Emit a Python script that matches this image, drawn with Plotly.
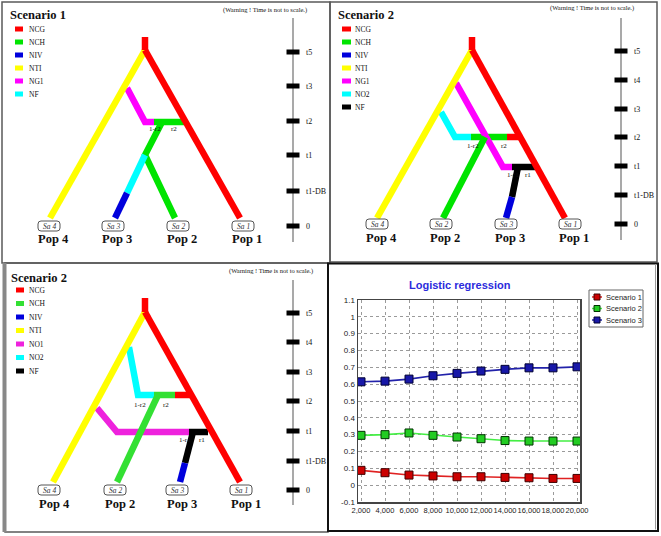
import plotly.graph_objects as go

W, H = 661, 536

# ---------------- Logistic regression panel data ----------------
sample_sizes = [2000, 4000, 6000, 8000, 10000, 12000, 14000, 16000, 18000, 20000]
scenario1_prob = [0.088, 0.074, 0.060, 0.055, 0.050, 0.050, 0.046, 0.044, 0.040, 0.040]
scenario2_prob = [0.296, 0.300, 0.310, 0.296, 0.286, 0.276, 0.265, 0.262, 0.262, 0.262]
scenario3_prob = [0.614, 0.618, 0.630, 0.650, 0.664, 0.678, 0.688, 0.697, 0.697, 0.703]
series_names = ["Scenario 1", "Scenario 2", "Scenario 3"]
y_tick_values = [-0.1, 0.0, 0.1, 0.2, 0.3, 0.4, 0.5, 0.6, 0.7, 0.8, 0.9, 1.0, 1.1]
y_tick_labels = ["-0.1", "0", "0.1", "0.2", "0.3", "0.4", "0.5", "0.6", "0.7", "0.8", "0.9", "1", "1.1"]
chart_title = "Logistic regression"

# ---------------- Scenario trees (schematic units, local to each panel) ----------------
warning_text = "(Warning ! Time is not to scale.)"

# Scenario 1 (top-left)
s1_title = "Scenario 1"
s1_time_labels = ["t5", "t3", "t2", "t1", "t1-DB", "0"]
s1_time_y = [52, 86, 121, 155, 191, 226]
s1_legend_codes = ["NCG", "NCH", "NIV", "NTI", "NG1", "NF"]
s1_legend_colors = ["#ff0000", "#00e400", "#0000dc", "#ffff00", "#ff00ff", "#00ffff"]
s1_sample_labels = ["Sa 4", "Sa 3", "Sa 2", "Sa 1"]
s1_pop_labels = ["Pop 4", "Pop 3", "Pop 2", "Pop 1"]
s1_lineage_x = [49, 113, 178, 243]
s1_branches = [
    ("NG1", [127, 145, 154], [88, 122, 122]),
    ("NCH", [154, 184], [122, 122]),
    ("NCH", [162, 145, 175], [122, 155, 218]),
    ("NF", [145, 127], [155, 193]),
    ("NIV", [127, 115], [193, 218]),
    ("NTI", [145, 50], [50, 218]),
    ("NCG", [145, 145], [37, 50]),
    ("NCG", [145, 240], [50, 218]),
]
s1_admix_labels = ["1-r2", "r2"]
s1_admix_x = [155, 174]
s1_admix_y = [129, 129]

# Scenario 2 (top-right)
s2_title = "Scenario 2"
s2_time_labels = ["t5", "t4", "t3", "t2", "t1", "t1-DB", "0"]
s2_time_y = [51, 80, 109, 137, 166, 195, 224]
s2_legend_codes = ["NCG", "NCH", "NIV", "NTI", "NG1", "NO2", "NF"]
s2_legend_colors = ["#ff0000", "#00e400", "#0000dc", "#ffff00", "#ff00ff", "#00ffff", "#000000"]
s2_sample_labels = ["Sa 4", "Sa 2", "Sa 3", "Sa 1"]
s2_pop_labels = ["Pop 4", "Pop 2", "Pop 3", "Pop 1"]
s2_lineage_x = [47, 111, 176, 240]
s2_branches = [
    ("NO2", [111, 125, 141], [112, 137, 137]),
    ("NCH", [141, 177], [137, 137]),
    ("NCG", [177, 190], [137, 137]),
    ("NG1", [126, 173, 182], [83, 167, 167]),
    ("NCH", [155, 113], [137, 218]),
    ("NF", [182, 205], [167, 167]),
    ("NF", [188, 182], [167, 197]),
    ("NIV", [182, 176], [197, 218]),
    ("NTI", [142, 47], [50, 218]),
    ("NCG", [142, 142], [37, 50]),
    ("NCG", [142, 235], [50, 218]),
]
s2_admix_labels = ["1-r2", "r2", "1-r1", "r1"]
s2_admix_x = [143, 174, 183, 198]
s2_admix_y = [146, 146, 175, 175]

# Scenario 2 variant (bottom-left)
s3_title = "Scenario 2"
s3_time_labels = ["t5", "t4", "t3", "t2", "t1", "t1-DB", "0"]
s3_time_y = [48, 77, 107, 136, 166, 196, 225]
s3_legend_codes = ["NCG", "NCH", "NIV", "NTI", "NO1", "NO2", "NF"]
s3_legend_colors = ["#ff0000", "#33e033", "#0000dc", "#ffff00", "#ee22dd", "#00ffff", "#000000"]
s3_sample_labels = ["Sa 4", "Sa 2", "Sa 3", "Sa 1"]
s3_pop_labels = ["Pop 4", "Pop 2", "Pop 3", "Pop 1"]
s3_lineage_x = [49, 115, 177, 241]
s3_branches = [
    ("NO2", [129, 138, 154], [82, 130, 130]),
    ("NCH", [154, 175], [130, 130]),
    ("NCG", [175, 191], [130, 130]),
    ("NO1", [97, 117, 189], [143, 167, 167]),
    ("NCH", [158, 117], [130, 217]),
    ("NF", [189, 208], [167, 167]),
    ("NF", [193, 185], [167, 198]),
    ("NIV", [185, 180], [198, 217]),
    ("NTI", [145, 53], [47, 217]),
    ("NCG", [145, 145], [33, 47]),
    ("NCG", [145, 240], [47, 217]),
]
s3_admix_labels = ["1-r2", "r2", "1-r1", "r1"]
s3_admix_x = [140, 166, 185, 202]
s3_admix_y = [140, 140, 175, 175]

# ---------------- Layout / style constants ----------------
SERIF = "Liberation Serif, Times New Roman, serif"
NARROW = "Liberation Sans Narrow, Arial Narrow, Liberation Sans, Arial, sans-serif"

panels = [
    dict(ox=0, oy=0, title=s1_title, tl=s1_time_labels, ty=s1_time_y, lc=s1_legend_codes,
         lcol=s1_legend_colors, sl=s1_sample_labels, pl=s1_pop_labels, lx=s1_lineage_x,
         br=s1_branches, al=s1_admix_labels, ax_=s1_admix_x, ay_=s1_admix_y,
         title_xy=(9, 15), warn_xy=(265, 10), leg_x=(15, 23, 28), leg_y0=29, leg_dy=13.0,
         axis_x=293, axis_y=(18, 242), sample_y=226, pop_y=239, pop_dx=4),
    dict(ox=330, oy=0, title=s2_title, tl=s2_time_labels, ty=s2_time_y, lc=s2_legend_codes,
         lcol=s2_legend_colors, sl=s2_sample_labels, pl=s2_pop_labels, lx=s2_lineage_x,
         br=s2_branches, al=s2_admix_labels, ax_=s2_admix_x, ay_=s2_admix_y,
         title_xy=(7, 15), warn_xy=(262, 8), leg_x=(12, 21, 24), leg_y0=29, leg_dy=13.0,
         axis_x=291, axis_y=(18, 240), sample_y=224, pop_y=238, pop_dx=4),
    dict(ox=0, oy=265, title=s3_title, tl=s3_time_labels, ty=s3_time_y, lc=s3_legend_codes,
         lcol=s3_legend_colors, sl=s3_sample_labels, pl=s3_pop_labels, lx=s3_lineage_x,
         br=s3_branches, al=s3_admix_labels, ax_=s3_admix_x, ay_=s3_admix_y,
         title_xy=(10, 13), warn_xy=(271, 6), leg_x=(16, 24, 28), leg_y0=25, leg_dy=13.5,
         axis_x=293, axis_y=(15, 240), sample_y=225, pop_y=239, pop_dx=5),
]

fig = go.Figure()
annotations = []
shapes = []


def ann(x, y, text, size, family=SERIF, color="#111", xanchor="center", bold=False, italic=False):
    t = text
    if bold:
        t = "<b>" + t + "</b>"
    if italic:
        t = "<i>" + t + "</i>"
    annotations.append(dict(x=x, y=y, xref="x", yref="y", text=t, showarrow=False,
                            xanchor=xanchor, yanchor="middle", borderpad=0,
                            font=dict(size=size, family=family, color=color)))


def rounded_box(cx, cy, w, h, r):
    x0, x1, y0, y1 = cx - w / 2, cx + w / 2, cy - h / 2, cy + h / 2
    p = (f"M {x0 + r},{y0} L {x1 - r},{y0} Q {x1},{y0} {x1},{y0 + r} "
         f"L {x1},{y1 - r} Q {x1},{y1} {x1 - r},{y1} L {x0 + r},{y1} "
         f"Q {x0},{y1} {x0},{y1 - r} L {x0},{y0 + r} Q {x0},{y0} {x0 + r},{y0} Z")
    return dict(type="path", path=p, xref="x", yref="y", line=dict(color="#555", width=1),
                fillcolor="white")


for P in panels:
    ox, oy = P["ox"], P["oy"]
    cmap = dict(zip(P["lc"], P["lcol"]))
    # branches
    for code, xs, ys in P["br"]:
        fig.add_trace(go.Scatter(x=[ox + v for v in xs], y=[oy + v for v in ys], mode="lines",
                                 line=dict(color=cmap[code], width=6.5), hoverinfo="skip",
                                 showlegend=False, xaxis="x", yaxis="y"))
    # legend swatches
    lx0, lx1, ltx = P["leg_x"]
    for i, (code, col) in enumerate(zip(P["lc"], P["lcol"])):
        yy = oy + P["leg_y0"] + i * P["leg_dy"]
        fig.add_trace(go.Scatter(x=[ox + lx0, ox + lx1], y=[yy, yy], mode="lines",
                                 line=dict(color=col, width=5), hoverinfo="skip",
                                 showlegend=False, xaxis="x", yaxis="y"))
        ann(ox + ltx, yy, code, 7.5, xanchor="left")
    # time axis
    axx = ox + P["axis_x"]
    fig.add_trace(go.Scatter(x=[axx, axx], y=[oy + P["axis_y"][0], oy + P["axis_y"][1]],
                             mode="lines", line=dict(color="#8c8c8c", width=1.5),
                             hoverinfo="skip", showlegend=False, xaxis="x", yaxis="y"))
    tx, tyy = [], []
    for yv in P["ty"]:
        tx += [axx - 6.5, axx + 6.5, None]
        tyy += [oy + yv, oy + yv, None]
    fig.add_trace(go.Scatter(x=tx, y=tyy, mode="lines", line=dict(color="#000", width=5),
                             hoverinfo="skip", showlegend=False, xaxis="x", yaxis="y"))
    for lab, yv in zip(P["tl"], P["ty"]):
        ann(axx + 12, oy + yv, lab, 8, xanchor="left")
    # admixture rate labels
    for lab, xv, yv in zip(P["al"], P["ax_"], P["ay_"]):
        ann(ox + xv, oy + yv, lab, 7)
    # samples and populations
    for s, p, xv in zip(P["sl"], P["pl"], P["lx"]):
        shapes.append(rounded_box(ox + xv, oy + P["sample_y"], 22, 10, 3))
        ann(ox + xv, oy + P["sample_y"], s, 7.5, italic=True, color="#333")
        ann(ox + xv + P["pop_dx"], oy + P["pop_y"], p, 12.5, bold=True)
    # titles
    ann(ox + P["title_xy"][0], oy + P["title_xy"][1], P["title"], 12.5, bold=True, xanchor="left")
    ann(ox + P["warn_xy"][0], oy + P["warn_xy"][1], warning_text, 6.5)

# ---------------- Logistic regression chart ----------------
series_values = [scenario1_prob, scenario2_prob, scenario3_prob]
line_colors = ["#e02222", "#44ee44", "#2222aa"]
marker_colors = ["#cc0000", "#22cc22", "#1818a8"]
marker_edges = ["#400000", "#003300", "#000033"]
for name, vals, lc, mc, me in zip(series_names, series_values, line_colors, marker_colors, marker_edges):
    fig.add_trace(go.Scatter(x=sample_sizes, y=vals, mode="lines+markers", name=name,
                             line=dict(color=lc, width=1.6),
                             marker=dict(symbol="square", size=8, color=mc,
                                         line=dict(color=me, width=1)),
                             showlegend=False, xaxis="x2", yaxis="y2"))

ann(460, 285, chart_title, 11, family=NARROW, color="#2b2bdc", bold=True)

# manual legend box
shapes.append(dict(type="rect", xref="x", yref="y", x0=589, y0=290, x1=643, y1=327,
                   line=dict(color="#666", width=1), fillcolor="white", layer="below"))
for i, (name, lc, mc, me) in enumerate(zip(series_names, line_colors, marker_colors, marker_edges)):
    yy = 297 + i * 11.5
    fig.add_trace(go.Scatter(x=[592, 602], y=[yy, yy], mode="lines",
                             line=dict(color=lc, width=1.5), hoverinfo="skip",
                             showlegend=False, xaxis="x", yaxis="y"))
    fig.add_trace(go.Scatter(x=[597], y=[yy], mode="markers",
                             marker=dict(symbol="square", size=6, color=mc, line=dict(color=me, width=1)),
                             hoverinfo="skip", showlegend=False, xaxis="x", yaxis="y"))
    ann(605, yy, name, 7.5, family=NARROW, color="#222", xanchor="left")

# ---------------- Panel frames ----------------
frame_gray = "#5a5a5a"
shapes += [
    dict(type="rect", xref="x", yref="y", x0=2, y0=2, x1=330, y1=263, line=dict(color=frame_gray, width=1.5)),
    dict(type="rect", xref="x", yref="y", x0=330, y0=2, x1=657, y1=262, line=dict(color=frame_gray, width=1.5)),
    dict(type="rect", xref="x", yref="y", x0=5, y0=263, x1=328, y1=532, line=dict(color=frame_gray, width=1.5)),
    dict(type="line", xref="x", yref="y", x0=4.5, y0=263, x1=4.5, y1=532, line=dict(color="#888", width=4)),
    dict(type="rect", xref="x", yref="y", x0=328, y0=263.5, x1=658, y1=531, line=dict(color="#111", width=2)),
    dict(type="line", xref="x", yref="y", x0=655.5, y0=264, x1=655.5, y1=529.5, line=dict(color="#999", width=1)),
]

fig.update_layout(
    width=W, height=H, margin=dict(l=0, r=0, t=0, b=0, autoexpand=False),
    paper_bgcolor="white", plot_bgcolor="rgba(0,0,0,0)",
    showlegend=False,
    xaxis=dict(range=[0, W], domain=[0, 1], visible=False, fixedrange=True),
    yaxis=dict(range=[H, 0], domain=[0, 1], visible=False, fixedrange=True),
    xaxis2=dict(domain=[358 / W, 580 / W], range=[1750, 20250], anchor="y2",
                tickvals=sample_sizes, tickformat=",d", tickangle=0,
                tickfont=dict(size=7.5, family=NARROW, color="#222"),
                showgrid=True, griddash="dot", gridcolor="#9a9a9a", gridwidth=1,
                showline=True, mirror=True, linecolor="#444", linewidth=1.5,
                zeroline=False, ticks="", fixedrange=True, automargin=False),
    yaxis2=dict(domain=[1 - 502 / H, 1 - 300 / H], range=[-0.1, 1.1], anchor="x2",
                tickvals=y_tick_values, ticktext=y_tick_labels,
                tickfont=dict(size=8, family=NARROW, color="#222"),
                showgrid=True, griddash="dot", gridcolor="#9a9a9a", gridwidth=1,
                showline=True, mirror=True, linecolor="#444", linewidth=1.5,
                zeroline=False, ticks="", fixedrange=True, automargin=False),
    annotations=annotations,
    shapes=shapes,
)

fig.write_html(
    "out.html",
    config={"displayModeBar": False, "staticPlot": True},
    post_script="document.body.style.margin='0';document.body.style.overflow='hidden';",
)
